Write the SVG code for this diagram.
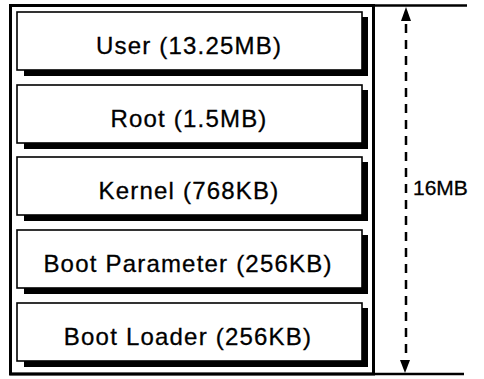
<svg xmlns="http://www.w3.org/2000/svg" width="484" height="379" viewBox="0 0 484 379">
<defs>
<style>
.box{fill:#fff;stroke:#000;stroke-width:1.6}
.sh{fill:#000}
.lbl{font-family:"Liberation Sans",Arial,sans-serif;font-size:24px;fill:#000;stroke:#000;stroke-width:0.3;text-anchor:middle;letter-spacing:1.2px}
.frame{fill:none;stroke:#000;stroke-width:3}
.ln{stroke:#000;stroke-width:2.5;fill:none}
.dash{stroke:#000;stroke-width:2.5;stroke-dasharray:9 7;fill:none}
</style>
</defs>
<rect x="0" y="0" width="484" height="379" fill="#fff"/>
<rect class="frame" x="10.5" y="5.5" width="363" height="368.5"/>
<g id="connectors">
<line class="ln" x1="10" y1="5.5" x2="467" y2="5.5"/>
<line class="ln" x1="10" y1="374" x2="464" y2="374"/>
<line class="dash" x1="406" y1="24" x2="406" y2="360"/>
<polygon points="406,7 401,21 411,21" fill="#000"/>
<polygon points="405,373 400,360 410,360" fill="#000"/>
</g>
<g id="user">
<polygon class="sh" points="24,70 362,70 362,17 368,17 368,76 24,76"/>
<rect class="box" x="17" y="12" width="345" height="58"/>
<text class="lbl" x="189" y="54">User (13.25MB)</text>
</g>
<g id="root">
<polygon class="sh" points="24,143 362,143 362,90 368,90 368,149 24,149"/>
<rect class="box" x="17" y="85" width="345" height="58"/>
<text class="lbl" x="189" y="127">Root (1.5MB)</text>
</g>
<g id="kernel">
<polygon class="sh" points="24,215 362,215 362,162 368,162 368,221 24,221"/>
<rect class="box" x="17" y="157" width="345" height="58"/>
<text class="lbl" x="189" y="199">Kernel (768KB)</text>
</g>
<g id="bootparam">
<polygon class="sh" points="24,288 362,288 362,235 368,235 368,294 24,294"/>
<rect class="box" x="17" y="230" width="345" height="58"/>
<text class="lbl" x="188" y="272">Boot Parameter (256KB)</text>
</g>
<g id="bootloader">
<polygon class="sh" points="24,361 362,361 362,308 368,308 368,367 24,367"/>
<rect class="box" x="17" y="303" width="345" height="58"/>
<text class="lbl" x="188" y="345">Boot Loader (256KB)</text>
</g>
<g id="size">
<text x="413" y="195" style="font-family:'Liberation Sans',Arial,sans-serif;font-size:21px;fill:#000;stroke:#000;stroke-width:0.3">16MB</text>
</g>
</svg>
